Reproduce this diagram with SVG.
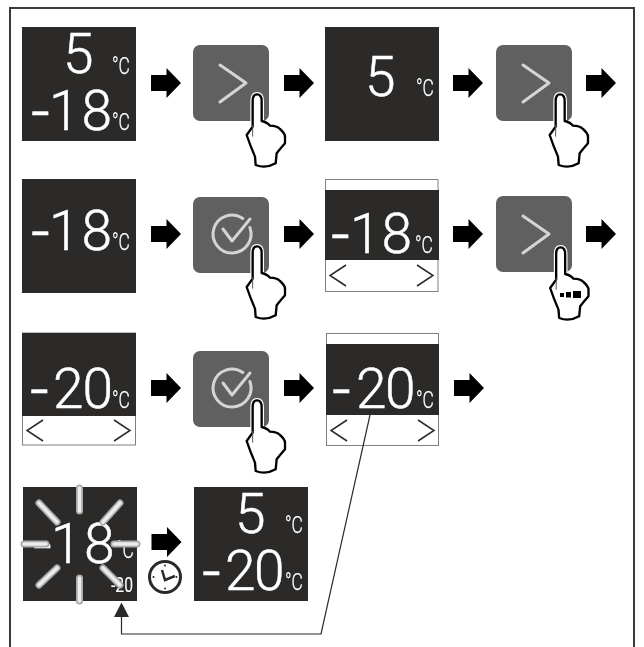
<svg xmlns="http://www.w3.org/2000/svg" width="644" height="647" viewBox="0 0 644 647">
<style>
.d{fill:#2b2a29}
.n{font-family:Roboto,"Liberation Sans",sans-serif;font-weight:300;font-size:55px;fill:#fff;stroke:#fff;stroke-width:.5}
.m{font-size:66px}
.u{font-family:Roboto,"Liberation Sans",sans-serif;font-weight:300;font-size:23px;fill:#fff;stroke:#fff;stroke-width:.25;filter:url(#gray)}
.s{font-family:Roboto,"Liberation Sans",sans-serif;font-weight:400;font-size:20px;fill:#fff;stroke:#fff;stroke-width:.1;filter:url(#gray)}
.btn{fill:#606060}
.g{fill:none;stroke:#d4d4d4;stroke-width:3;stroke-linecap:round;stroke-linejoin:round}
.ch{fill:none;stroke:#2b2a29;stroke-width:1.500}
.strip{fill:#fff;stroke:#808080;stroke-width:1}
.ray{stroke:#a9a9a9;stroke-width:7;stroke-linecap:round;fill:none}
.ray2{stroke:#ececec;stroke-width:3.600;stroke-linecap:round;fill:none}
.hand{fill:#fff;stroke:#000;stroke-width:7;stroke-linejoin:round;stroke-linecap:round}
.halo{fill:none;stroke:#fff;stroke-width:14;stroke-linejoin:round}
</style>
<defs>
<filter id="gray" x="-10%" y="-10%" width="120%" height="120%"><feOffset dx="0" dy="0"/></filter>
<path id="arrow" d="M0 -8H15.500V-15L30 0L15.500 15V8H0Z" fill="#000"/>
<g id="hand" transform="scale(0.3333)">
<path class="halo" d="M53 125V48Q53 28 66 28Q80 28 80 48V108"/>
<path class="hand" d="M53 125V48Q53 28 66 28Q80 28 80 48V108Q97 112 105 122Q125 122 135 132Q150 145 150 155V175Q135 192 125 205L122 235Q92 252 62 240L60 215Q45 180 35 150Z"/>
<path d="M53 120V155" stroke="#555" stroke-width="3" fill="none"/>
</g>
<g id="next"><rect class="btn" width="76" height="76" rx="7"/><path class="g" d="M27 20L53 38L27 57"/></g>
<g id="ok"><rect class="btn" width="76" height="76" rx="7"/><path class="g" d="M56.900 30.500A19 19 0 1 1 49.900 21.400"/><path class="g" d="M30 32L39 44L57 22"/></g>
<path id="lt" class="ch" d="M21 0L5 10.500L21 21M92 0L108 10.500L92 21"/>
</defs>
<path id="frame" d="M10 647V8H634V647" fill="none" stroke="#3a3a3a" stroke-width="2"/>
<g id="panel-1"><rect class="d" x="22" y="27" width="114" height="114"/><text class="n" x="63" y="73">5</text><text class="n" y="130"><tspan class="m" x="31" dy="4">-</tspan><tspan x="49 81.500" dy="-4">18</tspan></text><text class="u" x="112" y="74" textLength="18" lengthAdjust="spacingAndGlyphs">°C</text><text class="u" x="112" y="130" textLength="18" lengthAdjust="spacingAndGlyphs">°C</text></g>
<g id="button-1"><use href="#next" x="193" y="45"/><use href="#hand" x="235" y="85"/></g>
<g id="panel-2"><rect class="d" x="325" y="27" width="114" height="114"/><text class="n" x="365" y="96">5</text><text class="u" x="416" y="96" textLength="18" lengthAdjust="spacingAndGlyphs">°C</text></g>
<g id="button-2"><use href="#next" x="496" y="45"/><use href="#hand" x="538" y="85"/></g>
<g id="panel-3"><rect class="d" x="22" y="179" width="114" height="114"/><text class="n" y="250"><tspan class="m" x="31" dy="4">-</tspan><tspan x="49 81.500" dy="-4">18</tspan></text><text class="u" x="112" y="250" textLength="18" lengthAdjust="spacingAndGlyphs">°C</text></g>
<g id="button-3"><use href="#ok" x="193" y="197"/><use href="#hand" x="235" y="237"/></g>
<g id="panel-4"><rect class="strip" x="325.500" y="179.500" width="112.500" height="112"/><rect class="d" x="325" y="190" width="114" height="70"/><text class="n" y="253"><tspan class="m" x="331" dy="4">-</tspan><tspan x="350 381.500" dy="-4">18</tspan></text><text class="u" x="415" y="253" textLength="18" lengthAdjust="spacingAndGlyphs">°C</text><use href="#lt" x="325" y="265"/></g>
<g id="button-4"><use href="#next" x="496" y="196"/><use href="#hand" x="538.500" y="238"/><rect x="560" y="293" width="4" height="4"/><rect x="566" y="292" width="5" height="5.500"/><rect x="573" y="291" width="8" height="7"/></g>
<g id="panel-5"><rect class="strip" x="22.500" y="333" width="113" height="112"/><rect class="d" x="22" y="333" width="114" height="83"/><text class="n" y="408"><tspan class="m" x="30" dy="4">-</tspan><tspan x="53 82.500" dy="-4">20</tspan></text><text class="u" x="112" y="408" textLength="18" lengthAdjust="spacingAndGlyphs">°C</text><use href="#lt" x="22" y="420"/></g>
<g id="button-5"><use href="#ok" x="193" y="351"/><use href="#hand" x="235" y="391"/></g>
<g id="panel-6"><rect class="strip" x="326.500" y="333.500" width="112" height="112"/><rect class="d" x="326" y="344" width="113" height="71"/><text class="n" y="408"><tspan class="m" x="332" dy="4">-</tspan><tspan x="356 385" dy="-4">20</tspan></text><text class="u" x="416" y="408" textLength="18" lengthAdjust="spacingAndGlyphs">°C</text><use href="#lt" x="326" y="420"/></g>
<g id="panel-7"><rect class="d" x="23" y="487" width="114" height="114"/><text class="n" y="563"><tspan class="m" x="33" dy="4">-</tspan><tspan x="51 84" dy="-4">18</tspan></text><text class="u" x="116" y="558" textLength="18" lengthAdjust="spacingAndGlyphs">°C</text><text class="s" x="111" y="592" textLength="22" lengthAdjust="spacingAndGlyphs">-20</text>
<g id="rays"><path class="ray" d="M79.500 488V511M79.500 578V601M24 544H46M114 544H137M39 503L57 522M120 503L103 522M39 585L57 568M120 585L103 568"/><path class="ray2" d="M79.500 488V511M79.500 578V601M24 544H46M114 544H137M39 503L57 522M120 503L103 522M39 585L57 568M120 585L103 568"/></g></g>
<g id="panel-8"><rect class="d" x="194" y="487" width="114" height="114"/><text class="n" x="235" y="533">5</text><text class="n" y="590"><tspan class="m" x="202" dy="4">-</tspan><tspan x="225 254" dy="-4">20</tspan></text><text class="u" x="285" y="533" textLength="18" lengthAdjust="spacingAndGlyphs">°C</text><text class="u" x="285" y="590" textLength="18" lengthAdjust="spacingAndGlyphs">°C</text></g>
<g id="clock"><circle cx="165" cy="577" r="15.500" fill="#fff" stroke="#2b2a29" stroke-width="3"/><path d="M162 570L165 580L175 576" fill="none" stroke="#2b2a29" stroke-width="2.500"/><circle cx="165" cy="565.500" r="1" fill="#2b2a29"/><circle cx="165" cy="588.500" r="1" fill="#2b2a29"/><circle cx="153.500" cy="577" r="1" fill="#2b2a29"/><circle cx="176.500" cy="577" r="1" fill="#2b2a29"/></g>
<g id="connectors">
<use href="#arrow" x="151" y="83"/><use href="#arrow" x="284" y="83"/><use href="#arrow" x="453" y="83"/><use href="#arrow" x="586" y="83"/>
<use href="#arrow" x="151" y="234"/><use href="#arrow" x="284" y="234"/><use href="#arrow" x="453" y="234"/><use href="#arrow" x="586" y="234"/>
<use href="#arrow" x="151" y="388"/><use href="#arrow" x="284" y="388"/><use href="#arrow" x="454" y="388"/>
<use href="#arrow" x="151.500" y="542"/>
<path d="M370 415L321 634H121.500V614" fill="none" stroke="#2b2a29" stroke-width="1.200"/>
<path d="M121.500 602.500L129 617H114Z" fill="#2b2a29"/>
</g>
</svg>
